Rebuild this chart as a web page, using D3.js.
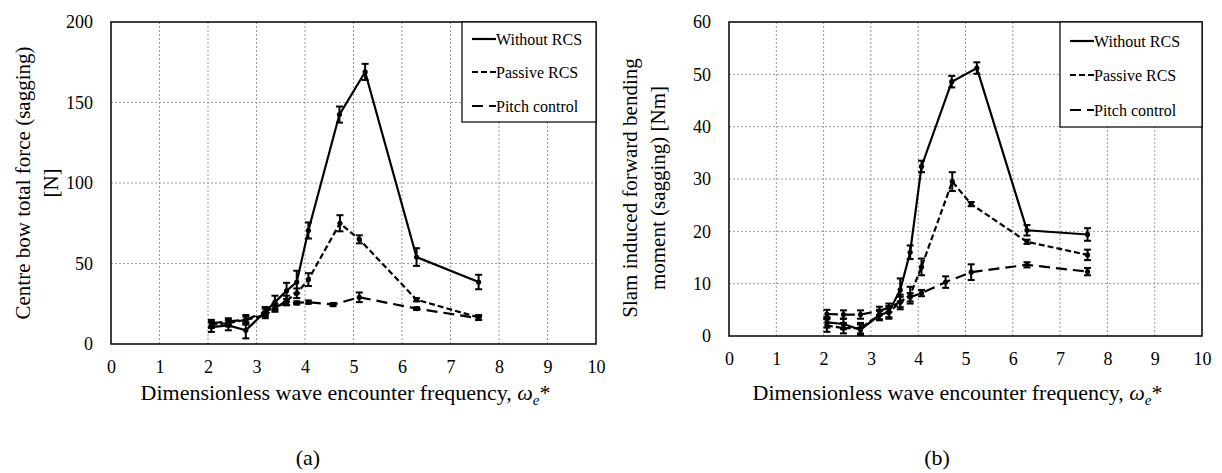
<!DOCTYPE html>
<html lang="en">
<head>
    <meta charset="UTF-8">
    <script src="https://d3js.org/d3.v7.min.js"></script>
    <style>
        body { margin: 0; background: #fff; }
        text { font-family: "Liberation Serif", "Times New Roman", serif; fill: #000; }
    </style>
</head>
<body>
<div id="chart"></div>
<script>
    // tick labels
    var xTicks = [0, 1, 2, 3, 4, 5, 6, 7, 8, 9, 10];
    var forceTicks = [0, 50, 100, 150, 200];
    var momentTicks = [0, 10, 20, 30, 40, 50, 60];
    var seriesNames = ["Without RCS", "Passive RCS", "Pitch control"];

    // encounter frequencies per series
    var freqWithout = [2.07, 2.42, 2.78, 3.18, 3.38, 3.62, 3.83, 4.07, 4.71, 5.24, 6.30, 7.58];
    var freqPassive = [2.07, 2.42, 2.78, 3.18, 3.38, 3.62, 3.83, 4.07, 4.72, 5.12, 6.30, 7.58];
    var freqPitch   = [2.07, 2.42, 2.78, 3.18, 3.38, 3.62, 3.83, 4.07, 4.58, 5.12, 6.30, 7.58];

    // (a) centre bow total force [N]
    var forceWithout    = [10.5, 11.5, 8.5, 20, 26, 33, 38.5, 70.5, 142.5, 169, 54, 38.5];
    var forceWithoutErr = [3, 3, 5, 3, 4, 5, 7, 5, 5, 5, 5.5, 4.5];
    var forcePassive    = [12, 13, 15, 18, 22, 27, 31.5, 40, 75, 65, 27.5, 16.5];
    var forcePassiveErr = [2, 2, 3, 2, 2, 3, 3, 4, 5, 2.5, 1, 1.5];
    var forcePitch      = [13, 14, 15, 20, 23, 25.3, 25.5, 26, 24.5, 29, 22, 16];
    var forcePitchErr   = [2, 2, 2, 2, 2, 1, 1, 1, 1, 3, 0.8, 1];

    // (b) slam induced forward bending moment [Nm]
    var momentWithout    = [2.6, 2.3, 1.2, 4.0, 4.6, 8.8, 16, 32.4, 48.6, 51.2, 20.2, 19.4];
    var momentWithoutErr = [1, 1, 1, 0.8, 1, 2.2, 1.3, 1.1, 1.1, 1.1, 1, 1.2];
    var momentPassive    = [2.0, 1.5, 1.5, 4.0, 4.5, 6.5, 7.8, 13.2, 29.5, 25.2, 18, 15.5];
    var momentPassiveErr = [1.2, 1, 1, 1, 1.2, 1.4, 1.6, 1.6, 1.8, 0.4, 0.4, 1];
    var momentPitch      = [4.2, 4.1, 4.1, 4.8, 5.4, 6.5, 7.4, 8.2, 10.3, 12.2, 13.6, 12.3];
    var momentPitchErr   = [0.8, 0.8, 0.8, 0.8, 0.8, 1, 0.8, 0.6, 1.1, 1.5, 0.5, 0.7];

    var dashes = [null, "6,3", "11,6"];

    var svg = d3.select("#chart")
        .append("svg")
            .attr("width", 1222)
            .attr("height", 473);

    function zip(xs, ys, es) {
        return xs.map(function(x, i) { return {x: x, y: ys[i], e: es[i]}; });
    }

    function panel(opt) {
        var w = opt.right - opt.left, h = opt.bottom - opt.top;
        var x = d3.scaleLinear().domain([0, 10]).range([0, w]);
        var y = d3.scaleLinear().domain([0, opt.ymax]).range([h, 0]);

        var g = svg.append("g")
            .attr("transform", "translate(" + opt.left + "," + opt.top + ")");

        // dotted grid
        g.append("g").selectAll("line").data(xTicks.slice(1, -1)).join("line")
            .attr("x1", function(d) { return x(d); }).attr("x2", function(d) { return x(d); })
            .attr("y1", 0).attr("y2", h)
            .attr("stroke", "#9a9a9a").attr("stroke-width", 1).attr("stroke-dasharray", "2,2");
        g.append("g").selectAll("line").data(opt.yTicks.slice(1, -1)).join("line")
            .attr("y1", function(d) { return y(d); }).attr("y2", function(d) { return y(d); })
            .attr("x1", 0).attr("x2", w)
            .attr("stroke", "#9a9a9a").attr("stroke-width", 1).attr("stroke-dasharray", "2,2");

        // axes, labels only
        var xa = g.append("g").attr("transform", "translate(0," + h + ")")
            .call(d3.axisBottom(x).tickValues(xTicks).tickSize(0).tickPadding(16));
        var ya = g.append("g")
            .call(d3.axisLeft(y).tickValues(opt.yTicks).tickSize(0).tickPadding(18));
        [xa, ya].forEach(function(a) {
            a.select(".domain").remove();
            a.selectAll("text").attr("font-size", 18).attr("font-family", "Liberation Serif");
        });

        var line = d3.line().x(function(d) { return x(d.x); }).y(function(d) { return y(d.y); });

        opt.series.forEach(function(s, i) {
            var pts = zip(s[0], s[1], s[2]);
            g.append("path").datum(pts)
                .attr("d", line)
                .attr("fill", "none").attr("stroke", "#000").attr("stroke-width", 2.2)
                .attr("stroke-dasharray", dashes[i]);
            var eb = g.append("g").selectAll("g").data(pts).join("g");
            eb.append("line")
                .attr("x1", function(d) { return x(d.x); }).attr("x2", function(d) { return x(d.x); })
                .attr("y1", function(d) { return y(d.y - d.e); }).attr("y2", function(d) { return y(d.y + d.e); })
                .attr("stroke", "#000").attr("stroke-width", 2);
            [-1, 1].forEach(function(sg) {
                eb.append("line")
                    .attr("x1", function(d) { return x(d.x) - 3.5; }).attr("x2", function(d) { return x(d.x) + 3.5; })
                    .attr("y1", function(d) { return y(d.y + sg * d.e); }).attr("y2", function(d) { return y(d.y + sg * d.e); })
                    .attr("stroke", "#000").attr("stroke-width", 2);
            });
            g.append("g").selectAll("circle").data(pts).join("circle")
                .attr("cx", function(d) { return x(d.x); }).attr("cy", function(d) { return y(d.y); })
                .attr("r", 2.6).attr("fill", "#000");
        });

        // frame
        g.append("rect").attr("width", w).attr("height", h)
            .attr("fill", "none").attr("stroke", "#000").attr("stroke-width", 1.5);

        // legend
        var lg = g.append("g").attr("transform", "translate(" + (w - opt.legW) + ",0)");
        lg.append("rect").attr("width", opt.legW).attr("height", opt.legH)
            .attr("fill", "#fff").attr("stroke", "#000").attr("stroke-width", 1.2);
        seriesNames.forEach(function(n, i) {
            var yy = opt.legRows[i];
            lg.append("line").attr("x1", 10).attr("x2", 34).attr("y1", yy).attr("y2", yy)
                .attr("stroke", "#000").attr("stroke-width", 2.2).attr("stroke-dasharray", dashes[i]);
            lg.append("text").attr("x", 34).attr("y", yy).attr("dy", "0.35em")
                .attr("font-size", 16).text(n);
        });

        // y title
        var yt = svg.append("text")
            .attr("transform", "translate(" + opt.yTitleX + "," + opt.yTitleY + ") rotate(-90)")
            .attr("text-anchor", "middle").attr("font-size", 21);
        opt.yTitle.forEach(function(t, i) {
            yt.append("tspan").attr("x", 0).attr("dy", i === 0 ? 0 : 28).text(t);
        });

        // x title
        var xt = svg.append("text")
            .attr("x", opt.left + w / 2 - 8).attr("y", 400)
            .attr("text-anchor", "middle").attr("font-size", 22);
        xt.append("tspan").text("Dimensionless wave encounter frequency, ");
        xt.append("tspan").attr("font-style", "italic").text("\u03c9");
        xt.append("tspan").attr("font-style", "italic").attr("font-size", 15).attr("dy", 5).text("e");
        xt.append("tspan").attr("dy", -5).text("*");

        svg.append("text")
            .attr("x", opt.capX).attr("y", 465)
            .attr("text-anchor", "middle").attr("font-size", 22).text(opt.caption);
    }

    panel({
        left: 111, right: 596, top: 22, bottom: 344, ymax: 200, yTicks: forceTicks,
        series: [[freqWithout, forceWithout, forceWithoutErr],
                 [freqPassive, forcePassive, forcePassiveErr],
                 [freqPitch, forcePitch, forcePitchErr]],
        legW: 134, legH: 100, legRows: [17, 50, 84],
        yTitle: ["Centre bow total force (sagging)", "[N]"], yTitleX: 30, yTitleY: 183,
        caption: "(a)", capX: 308
    });

    panel({
        left: 729, right: 1202, top: 22, bottom: 336, ymax: 60, yTicks: momentTicks,
        series: [[freqWithout, momentWithout, momentWithoutErr],
                 [freqPassive, momentPassive, momentPassiveErr],
                 [freqPitch, momentPitch, momentPitchErr]],
        legW: 142, legH: 105, legRows: [19, 53, 88],
        yTitle: ["Slam induced forward bending", "moment (sagging) [Nm]"], yTitleX: 637, yTitleY: 188,
        caption: "(b)", capX: 937
    });
</script>
</body>
</html>
